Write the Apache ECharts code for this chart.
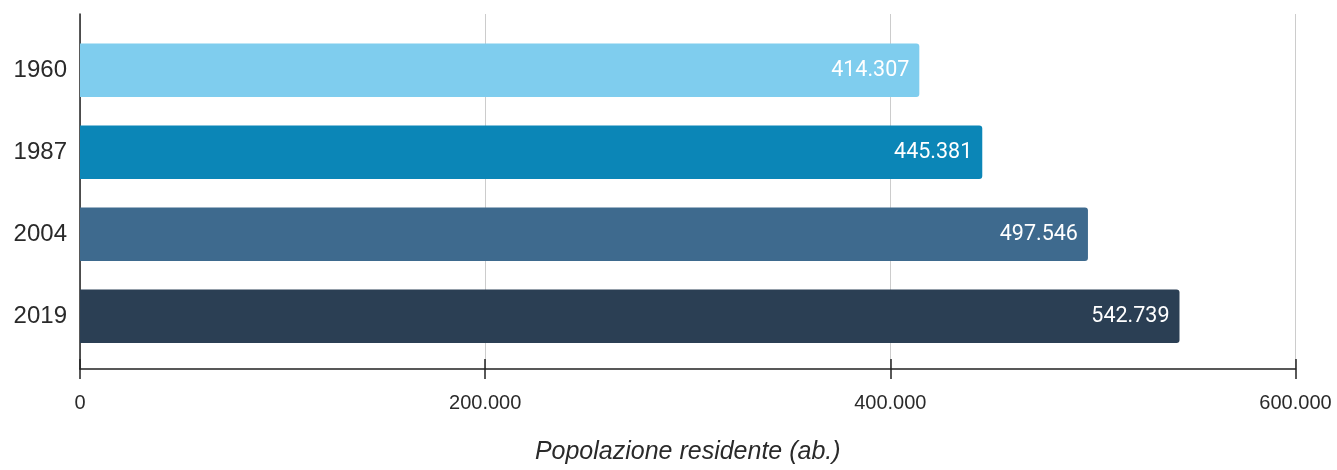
<!DOCTYPE html>
<html>
<head>
<meta charset="utf-8">
<title>Popolazione residente</title>
<script src="https://cdn.jsdelivr.net/npm/echarts@6/dist/echarts.min.js"></script>
<style>
	html, body { margin: 0; padding: 0; background: #fff; }
	#chart { width: 1337px; height: 470px; }
</style>
</head>
<body>
<div id="chart"></div>
<script>
// dati
var anni = ['1960', '1987', '2004', '2019'];
var popolazione = [414307, 445381, 497546, 542739];
var colori = ['#7fcdee', '#0b86b7', '#3e6a8e', '#2b3f54'];
var asseMax = 600000;
var asseStep = 200000;

function fmt(v) {
	return String(v).replace(/\B(?=(\d{3})+(?!\d))/g, '.');
}

function initChart() {
	var chart = echarts.init(document.getElementById('chart'));
	var dati = [];
	popolazione.forEach(function (val, i) {
		dati.push({ value: val, itemStyle: { color: colori[i] } });
	});
	var option = {
		animation: false,
		textStyle: { fontFamily: 'Liberation Sans' },
		grid: [
			{ left: 80, right: 41.5, top: 14, bottom: 98 },
			{ left: 80, right: 41.5, top: 29.3, bottom: 112.7 }
		],
		xAxis: [{
			type: 'value',
			gridIndex: 0,
			position: 'bottom',
			min: 0,
			max: asseMax,
			interval: asseStep,
			axisLine: { show: true, lineStyle: { color: '#222', width: 1.5 } },
			axisTick: { show: true, inside: false, length: 10, lineStyle: { color: '#222', width: 1.5 } },
			axisLabel: {
				margin: 24,
				fontSize: 20,
				color: '#2a2a2a',
				formatter: function (v) { return fmt(v); }
			},
			splitLine: { show: true, lineStyle: { color: '#cccccc', width: 1 } },
			name: 'Popolazione residente (ab.)',
			nameLocation: 'middle',
			nameGap: 71,
			nameTextStyle: { fontSize: 25, fontStyle: 'italic', color: '#2a2a2a' }
		}, {
			type: 'value',
			gridIndex: 1,
			min: 0,
			max: asseMax,
			show: false
		}, {
			// tacche verso l'interno (attraversano l'asse)
			type: 'value',
			gridIndex: 0,
			position: 'bottom',
			min: 0,
			max: asseMax,
			interval: asseStep,
			axisLine: { show: false },
			axisTick: { show: true, inside: true, length: 10, lineStyle: { color: '#222', width: 1.5 } },
			axisLabel: { show: false },
			splitLine: { show: false }
		}],
		yAxis: [{
			type: 'value',
			gridIndex: 0,
			min: 0,
			max: 1,
			axisLine: { show: true, lineStyle: { color: '#222', width: 1.5 } },
			axisTick: { show: false },
			axisLabel: { show: false },
			splitLine: { show: false }
		}, {
			type: 'category',
			gridIndex: 1,
			inverse: true,
			data: anni,
			axisLine: { show: false },
			axisTick: { show: false },
			axisLabel: { margin: 13, fontSize: 24, color: '#2a2a2a', padding: [3, 0, 0, 0] }
		}],
		series: [{
			type: 'bar',
			xAxisIndex: 1,
			yAxisIndex: 1,
			barWidth: 53.5,
			data: dati,
			itemStyle: { borderRadius: [0, 3, 3, 0] },
			label: {
				show: true,
				position: 'insideRight',
				distance: 10,
				color: '#ffffff',
				fontFamily: 'Roboto',
				fontSize: 21.5,
				formatter: function (p) { return fmt(p.value); }
			}
		}]
	};
	chart.setOption(option, true);
}

initChart();
</script>
</body>
</html>
